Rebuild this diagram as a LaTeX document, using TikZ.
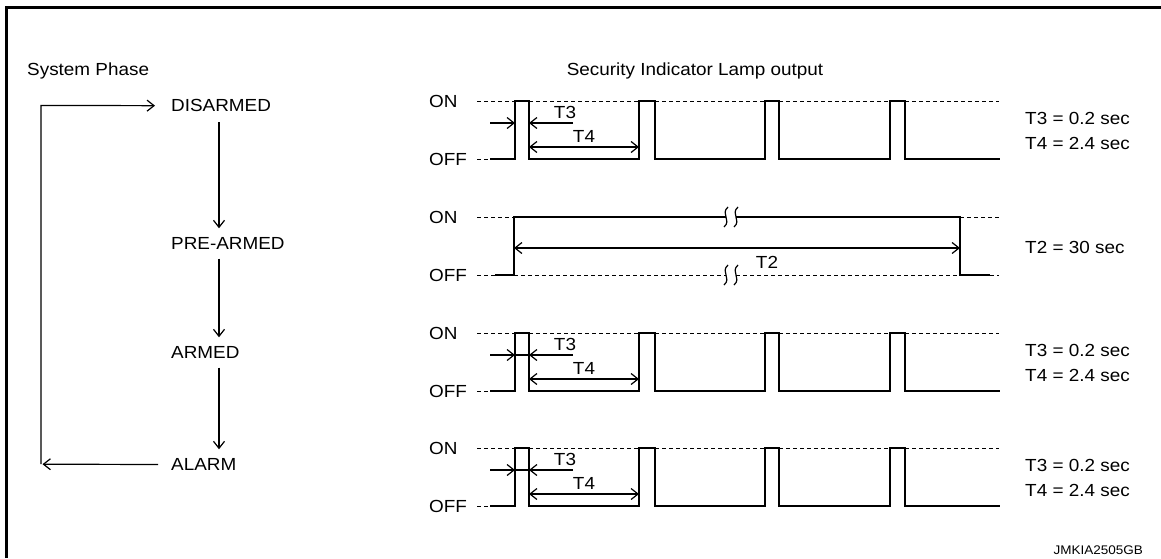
\documentclass[tikz,border=0pt]{standalone}
\usepackage{fontspec}
\setmainfont{Liberation Sans}[FakeStretch=1.08]
\usetikzlibrary{arrows.meta,calc}
\newcommand{\brkmark}[2]{\draw[ln] (#1+2,#2-10) .. controls (#1-6,#2-3) and (#1+6,#2+3) .. (#1-2,#2+10);}
\newcommand{\pulserow}[3]{%
\begin{scope}[shift={(0,#1)}]
  \node[txt,anchor=west] (on#2) at (429,0) {ON};
  \node[txt,anchor=west] (off#2) at (429,58) {OFF};
  \draw[dsh] (477,0) -- (515,0);
  \draw[dsh] (477,58) -- (490,58);
  \draw[dsh] (529,0) -- (639,0) (655,0) -- (765,0) (779,0) -- (890,0) (905,0) -- (999,0);
  \draw[ln] (490,58) -| (515,0) -| (529,58) -| (639,0) -| (655,58) -| (765,0) -| (779,58) -| (890,0) -| (905,58) -- (1000,58);
  \draw[arr] (490,22) -- (515,22);
  \draw[arr] (573,22) -- (529,22);
  #3
  \draw[darr] (529,46) -- (639,46);
  \node[txt] (tt#2) at (565,11) {T3};
  \node[txt] (tf#2) at (584,35) {T4};
  \node[txt,anchor=west] (vt#2) at (1025,17.5) {T3 = 0.2 sec};
  \node[txt,anchor=west] (vf#2) at (1025,42.5) {T4 = 2.4 sec};
\end{scope}}
\begin{document}
\begin{tikzpicture}[x=1pt,y=-1pt,
  >={Straight Barb[length=7pt,width=11pt,line width=1.2pt]},
  ln/.style={line width=1.2pt},
  arr/.style={ln,->},
  darr/.style={ln,<->},
  dsh/.style={line width=1pt,dash pattern=on 4pt off 3pt},
  txt/.style={font=\fontsize{17.5}{20}\selectfont,inner sep=0pt},
  small/.style={font=\fontsize{12.5}{15}\selectfont,inner sep=0pt},
]
\useasboundingbox (0,0) rectangle (1161,558);
\fill[white] (0,0) rectangle (1161,558);
\draw[line width=3pt] (6.5,558) -- (6.5,7) -- (1161,7);

% left panel
\node[txt,anchor=base west] (sp) at (27,75) {System Phase};
\node[txt,anchor=base west] (dis) at (171,111.7) {DISARMED};
\node[txt,anchor=base west] (pre) at (171,249.5) {PRE-ARMED};
\node[txt,anchor=base west] (arm) at (171,358.5) {ARMED};
\node[txt,anchor=base west] (alm) at (171,470.5) {ALARM};
\coordinate (ax) at (219,0);
\coordinate (lt) at (41,105.4);
\coordinate (lb) at (41,464.2);
\draw[arr] ($(dis.south -| ax)+(0,10)$) -- ($(pre.north -| ax)+(0,-9)$);
\draw[arr] ($(pre.south -| ax)+(0,9)$) -- ($(arm.north -| ax)+(0,-9)$);
\draw[arr] ($(arm.south -| ax)+(0,9)$) -- ($(alm.north -| ax)+(0,-9)$);
\draw[arr] ($(alm.west)+(-13,0)$) -- ($(lb)+(1.5,0)$);
\draw[arr] (lb) -- (lt) -- ($(dis.west)+(-16,0)$);

% right panel
\node[txt,anchor=base] (title) at (695,75) {Security Indicator Lamp output};

\pulserow{101}{a}{}

\begin{scope}[shift={(0,217)}]
  \node[txt,anchor=west] (onb) at (429,0) {ON};
  \node[txt,anchor=west] (offb) at (429,58) {OFF};
  \draw[dsh] (477,0) -- (514,0);
  \draw[dsh] (477,58) -- (495,58);
  \draw[ln] (495,58) -- (514,58) -- (514,0) -- (726,0);
  \draw[ln] (736,0) -- (960,0) -- (960,58) -- (990,58);
  \draw[dsh] (990,58) -- (999,58);
  \draw[dsh] (960,0) -- (999,0);
  \draw[dsh] (514,58) -- (726,58) (736,58) -- (960,58);
  \brkmark{726}{0}
  \brkmark{736}{0}
  \brkmark{726}{58}
  \brkmark{736}{58}
  \draw[darr] (514,31) -- (960,31);
  \node[txt] (t2) at (767,45) {T2};
  \node[txt,anchor=west] (vt2) at (1025,30) {T2 = 30 sec};
\end{scope}

\pulserow{333}{c}{\draw[ln] (515,22) -- (529,22);}
\pulserow{448}{d}{\draw[ln] (515,22) -- (529,22);}

\node[small,anchor=base east] (code) at (1143,554) {JMKIA2505GB};
\end{tikzpicture}
\end{document}
